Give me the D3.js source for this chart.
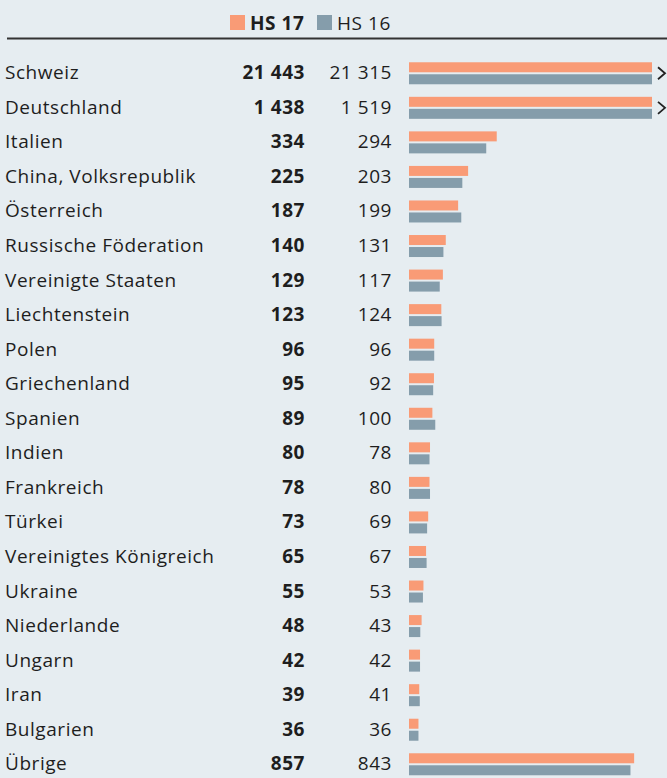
<!DOCTYPE html>
<html>
<head>
<meta charset="utf-8">
<script src="https://cdn.jsdelivr.net/npm/d3@7"></script>
<style>
  body { margin: 0; background: #e6edf1; }
  svg { display: block; font-family: "Open Sans", sans-serif; letter-spacing: 0.55px; }
</style>
</head>
<body>
<script>
var countries = ["Schweiz", "Deutschland", "Italien", "China, Volksrepublik", "Österreich",
  "Russische Föderation", "Vereinigte Staaten", "Liechtenstein", "Polen", "Griechenland",
  "Spanien", "Indien", "Frankreich", "Türkei", "Vereinigtes Königreich", "Ukraine",
  "Niederlande", "Ungarn", "Iran", "Bulgarien", "Übrige"];
var hs17 = [21443, 1438, 334, 225, 187, 140, 129, 123, 96, 95, 89, 80, 78, 73, 65, 55, 48, 42, 39, 36, 857];
var hs16 = [21315, 1519, 294, 203, 199, 131, 117, 124, 96, 92, 100, 78, 80, 69, 67, 53, 43, 42, 41, 36, 843];
var seriesNames = ["HS 17", "HS 16"];

var width = 667, height = 778;
var colors = ["#f99b76", "#859dab"];

var data = countries.map(function(c, i) { return {name: c, a: hs17[i], b: hs16[i]}; });

var fmt = d3.formatLocale({decimal: ",", thousands: "\u00a0", grouping: [3], currency: ["", ""]}).format(",d");

var svg = d3.select("body").append("svg")
    .attr("width", width)
    .attr("height", height);

var y = d3.scaleBand()
    .domain(countries)
    .range([56, 56 + countries.length * 34.55]);

var x = d3.scaleLinear()
    .domain([0, 925])
    .range([409, 652])
    .clamp(true);

// legend
var legend = svg.selectAll(".legend")
    .data(seriesNames)
  .enter().append("g")
    .attr("class", "legend")
    .attr("transform", function(d, i) { return "translate(" + (230 + i * 87) + ",15)"; });

legend.append("rect")
    .attr("width", 15)
    .attr("height", 15)
    .style("fill", function(d, i) { return colors[i]; });

legend.append("text")
    .attr("x", 20)
    .attr("y", 15)
    .style("font-size", "19px")
    .style("font-weight", function(d, i) { return i == 0 ? "bold" : "normal"; })
    .style("fill", "#1e1e1e")
    .text(function(d) { return d; });

svg.append("line")
    .attr("x1", 7)
    .attr("x2", width)
    .attr("y1", 38.5)
    .attr("y2", 38.5)
    .style("stroke", "#333")
    .style("stroke-width", 2);

var row = svg.selectAll(".row")
    .data(data)
  .enter().append("g")
    .attr("class", "row")
    .attr("transform", function(d) { return "translate(0," + (y(d.name) + y.bandwidth() / 2) + ")"; });

row.append("text")
    .attr("x", 5)
    .attr("y", 6)
    .style("font-size", "19px")
    .style("fill", "#1e1e1e")
    .text(function(d) { return d.name; });

row.append("text")
    .attr("x", 305)
    .attr("y", 6)
    .style("font-size", "19px")
    .style("font-weight", "bold")
    .style("text-anchor", "end")
    .style("fill", "#1e1e1e")
    .text(function(d) { return fmt(d.a); });

row.append("text")
    .attr("x", 392)
    .attr("y", 6)
    .style("font-size", "19px")
    .style("text-anchor", "end")
    .style("fill", "#1e1e1e")
    .text(function(d) { return fmt(d.b); });

row.append("rect")
    .attr("x", x(0))
    .attr("y", -11)
    .attr("height", 10)
    .attr("width", function(d) { return x(d.a) - x(0); })
    .style("fill", colors[0]);

row.append("rect")
    .attr("x", x(0))
    .attr("y", 1)
    .attr("height", 10)
    .attr("width", function(d) { return x(d.b) - x(0); })
    .style("fill", colors[1]);

row.filter(function(d) { return d.a > x.domain()[1] || d.b > x.domain()[1]; })
  .append("path")
    .attr("d", "M658,-6 L665,0 L658,6")
    .style("fill", "none")
    .style("stroke", "#222")
    .style("stroke-width", 1.8);
</script>
</body>
</html>
